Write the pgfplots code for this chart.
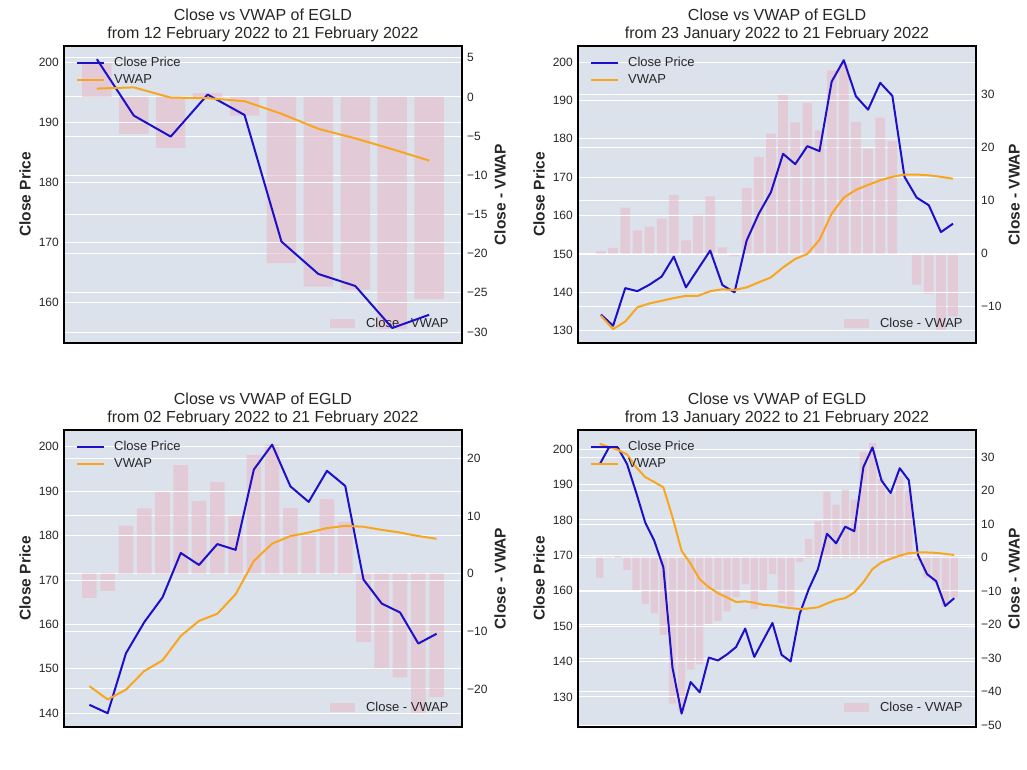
\documentclass[border=0pt]{standalone}
\usepackage{fontspec}
\setmainfont{Liberation Sans}
\usepackage{pgfplots}
\usepackage{pgfplotstable}
\pgfplotsset{compat=1.18}
\definecolor{bg}{RGB}{220,226,236}
\definecolor{cblue}{RGB}{28,16,200}
\definecolor{corange}{RGB}{247,166,30}
\definecolor{cbar}{RGB}{230,188,201}
\definecolor{txt}{RGB}{38,38,38}

\pgfplotstableread{
x close vwap diff
0 200.5 195.6 4.3
1 191.1 195.8 -4.7
2 187.6 194.1 -6.5
3 194.6 194.0 0.5
4 191.2 193.5 -2.4
5 170.1 191.4 -21.2
6 164.7 188.9 -24.2
7 162.7 187.3 -24.6
8 155.7 185.5 -29.6
9 157.9 183.6 -25.8
}\tA

\pgfplotstableread{
x close vwap diff
0 134.2 133.9 0.5
1 131.3 130.4 1.1
2 141.1 132.4 8.7
3 140.3 136.1 4.4
4 142.0 137.1 5.1
5 144.1 137.8 6.6
6 149.3 138.5 11.1
7 141.3 139.1 2.5
8 146.1 139.1 7.4
9 150.9 140.3 10.8
10 141.9 140.8 1.2
11 140.0 140.6 -0.5
12 153.5 141.3 12.4
13 160.5 142.6 18.2
14 166.1 143.9 22.6
15 176.1 146.5 29.9
16 173.4 148.7 24.7
17 178.1 150.0 28.4
18 176.8 153.7 23.2
19 194.9 160.5 34.5
20 200.5 164.7 35.8
21 191.1 166.7 24.8
22 187.6 168.0 19.8
23 194.6 169.2 25.6
24 191.2 170.1 21.2
25 170.1 170.7 -0.3
26 164.7 170.7 -5.8
27 162.7 170.5 -7.6
28 155.7 170.1 -14.4
29 157.9 169.6 -11.8
}\tB

\pgfplotstableread{
x close vwap diff
0 141.9 146.1 -4.2
1 140.0 143.1 -3.0
2 153.5 145.3 8.3
3 160.5 149.5 11.3
4 166.1 151.9 14.3
5 176.1 157.4 18.8
6 173.4 160.8 12.6
7 178.1 162.4 15.9
8 176.8 166.8 10.0
9 194.9 174.3 20.6
10 200.5 178.2 22.4
11 191.1 179.9 11.4
12 187.6 180.7 6.9
13 194.6 181.7 12.9
14 191.2 182.2 9.0
15 170.1 182.0 -11.9
16 164.7 181.3 -16.6
17 162.7 180.7 -18.0
18 155.7 179.9 -24.2
19 157.9 179.3 -21.4
}\tC

\pgfplotstableread{
x close vwap diff
0 195.7 201.5 -6.0
1 200.4 200.6 -0.2
2 200.4 199.8 0.6
3 195.8 198.5 -3.7
4 187.8 194.9 -9.7
5 179.3 192.1 -13.9
6 174.1 190.7 -16.7
7 166.6 189.2 -23.1
8 138.3 180.8 -43.6
9 125.3 171.3 -46.0
10 134.2 167.6 -33.5
11 131.3 163.2 -31.9
12 141.1 161.0 -19.9
13 140.3 159.3 -18.9
14 142.0 158.1 -16.1
15 144.1 156.8 -11.9
16 149.3 157.0 -7.9
17 141.3 156.6 -15.4
18 146.1 156.0 -9.9
19 150.9 155.8 -4.9
20 141.9 155.4 -13.6
21 140.0 155.1 -14.5
22 153.5 154.8 -1.3
23 160.5 155.0 5.5
24 166.1 155.3 10.8
25 176.1 156.4 19.7
26 173.4 157.4 15.8
27 178.1 157.9 20.2
28 176.8 159.5 17.3
29 194.9 162.4 31.5
30 200.5 166.1 34.2
31 191.1 168.0 23.6
32 187.6 169.0 19.1
33 194.6 169.9 24.4
34 191.2 170.6 20.1
35 170.1 170.8 -0.7
36 164.7 170.8 -6.0
37 162.7 170.7 -7.7
38 155.7 170.4 -14.7
39 157.9 170.1 -12.0
}\tD

\pgfplotsset{
  base/.style={
    width=398pt, height=297pt, scale only axis, anchor=south west,
    xtick=\empty, major tick length=0pt,
    ymajorgrids, grid style={white, line width=0.9pt},
    tick label style={font=\fontsize{12}{14}\selectfont, text=txt},
    label style={font=\fontsize{15.5}{18}\selectfont\bfseries, text=txt},
    /pgf/number format/assume math mode=true,
  },
  barax/.style={
    base,
    axis background/.style={fill=bg},
    axis line style={draw=none},
    yticklabel pos=right,
    yticklabel style={anchor=west, inner sep=0pt, xshift=5pt},
    ylabel={Close - VWAP},
    ylabel style={at={(axis description cs:1.0955,0.5)}, anchor=center},
    legend style={at={(0.972,0.04)}, anchor=south east, draw=none, fill=none,
      font=\fontsize{13}{15}\selectfont, text=txt, inner sep=0pt,
      nodes={inner sep=2pt}, column sep=9pt},
  },
  lineax/.style={
    base,
    axis line style={black, line width=1.5pt},
    yticklabel style={anchor=east, inner sep=0pt, xshift=-5pt},
    ylabel={Close Price},
    ylabel style={at={(axis description cs:-0.098,0.5)}, anchor=center},
    title style={align=center, font=\fontsize{16}{17.5}\selectfont, text=txt, inner sep=0pt, yshift=-2pt},
    legend style={at={(0.03,0.97)}, anchor=north west, draw=none, fill=none,
      font=\fontsize{13}{15}\selectfont, text=txt, inner sep=0pt,
      nodes={inner sep=2pt}, row sep=3pt, column sep=7pt},
    legend cell align=left,
  },
  barplot/.style={ybar, bar width=0.8, fill=cbar, fill opacity=0.6, draw=none,
    legend image code/.code={\fill[cbar, fill opacity=0.6] (0pt,-4.5pt) rectangle (25pt,4.5pt);}},
  lplot/.style={#1, line width=2pt, line join=round, mark=none,
    legend image code/.code={\draw[#1, line width=2pt] (0pt,0pt) -- (27pt,0pt);}},
}

\begin{document}
\begin{tikzpicture}
\path[use as bounding box] (0,0) rectangle (1027pt,770pt);

% Panel 1
\begin{axis}[barax, at={(64pt,427pt)}, xmin=-0.89, xmax=9.89, ymin=-31.4, ymax=6.5,
  ytick={-30,-25,-20,-15,-10,-5,0,5}, yticklabels={−30,−25,−20,−15,−10,−5,0,5}]
\addplot[barplot] table[x=x,y=diff]{\tA};
\addlegendentry{Close - VWAP}
\end{axis}
\begin{axis}[lineax, at={(64pt,427pt)}, xmin=-0.89, xmax=9.89, ymin=153.2, ymax=202.7,
  ytick={160,170,180,190,200},
  title={Close vs VWAP of EGLD\\from 12 February 2022 to 21 February 2022}]
\addplot[lplot=cblue] table[x=x,y=close]{\tA};
\addlegendentry{Close Price}
\addplot[lplot=corange] table[x=x,y=vwap]{\tA};
\addlegendentry{VWAP}
\end{axis}

% Panel 2
\begin{axis}[barax, at={(578pt,427pt)}, xmin=-1.89, xmax=30.89, ymin=-16.8, ymax=39.1,
  ytick={-10,0,10,20,30}, yticklabels={−10,0,10,20,30}]
\addplot[barplot] table[x=x,y=diff]{\tB};
\addlegendentry{Close - VWAP}
\end{axis}
\begin{axis}[lineax, at={(578pt,427pt)}, xmin=-1.89, xmax=30.89, ymin=126.8, ymax=204.2,
  ytick={130,140,150,160,170,180,190,200},
  title={Close vs VWAP of EGLD\\from 23 January 2022 to 21 February 2022}]
\addplot[lplot=cblue] table[x=x,y=close]{\tB};
\addlegendentry{Close Price}
\addplot[lplot=corange] table[x=x,y=vwap]{\tB};
\addlegendentry{VWAP}
\end{axis}

% Panel 3
\begin{axis}[barax, at={(64pt,43pt)}, xmin=-1.39, xmax=20.39, ymin=-26.6, ymax=24.9,
  ytick={-20,-10,0,10,20}, yticklabels={−20,−10,0,10,20}]
\addplot[barplot] table[x=x,y=diff]{\tC};
\addlegendentry{Close - VWAP}
\end{axis}
\begin{axis}[lineax, at={(64pt,43pt)}, xmin=-1.39, xmax=20.39, ymin=136.9, ymax=203.8,
  ytick={140,150,160,170,180,190,200},
  title={Close vs VWAP of EGLD\\from 02 February 2022 to 21 February 2022}]
\addplot[lplot=cblue] table[x=x,y=close]{\tC};
\addlegendentry{Close Price}
\addplot[lplot=corange] table[x=x,y=vwap]{\tC};
\addlegendentry{VWAP}
\end{axis}

% Panel 4
\begin{axis}[barax, at={(578pt,43pt)}, xmin=-2.39, xmax=41.39, ymin=-50.6, ymax=38.1,
  ytick={-50,-40,-30,-20,-10,0,10,20,30}, yticklabels={−50,−40,−30,−20,−10,0,10,20,30}]
\addplot[barplot] table[x=x,y=diff]{\tD};
\addlegendentry{Close - VWAP}
\end{axis}
\begin{axis}[lineax, at={(578pt,43pt)}, xmin=-2.39, xmax=41.39, ymin=121.5, ymax=205.4,
  ytick={130,140,150,160,170,180,190,200},
  title={Close vs VWAP of EGLD\\from 13 January 2022 to 21 February 2022}]
\addplot[lplot=cblue] table[x=x,y=close]{\tD};
\addlegendentry{Close Price}
\addplot[lplot=corange] table[x=x,y=vwap]{\tD};
\addlegendentry{VWAP}
\end{axis}
\end{tikzpicture}
\end{document}
